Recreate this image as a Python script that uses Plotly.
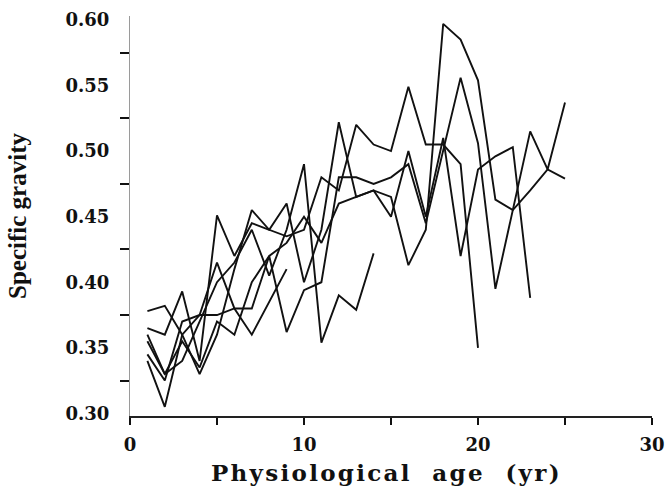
import plotly.graph_objects as go

# Physiological age (years) for each tree record
age_a = list(range(1, 26))
age_b = list(range(1, 26))
age_c = list(range(1, 21))
age_d = list(range(1, 24))
age_e = list(range(1, 10))
age_f = list(range(1, 15))

# Specific gravity of wood by physiological age
sg_a = [0.355, 0.330, 0.355, 0.335, 0.370, 0.360, 0.400, 0.420, 0.430, 0.450,
        0.430, 0.460, 0.465, 0.470, 0.465, 0.413, 0.440, 0.597, 0.585, 0.554,
        0.463, 0.455, 0.470, 0.486, 0.479]
sg_b = [0.345, 0.325, 0.370, 0.375, 0.375, 0.380, 0.380, 0.420, 0.362, 0.394,
        0.400, 0.480, 0.480, 0.475, 0.480, 0.490, 0.445, 0.500, 0.556, 0.506,
        0.395, 0.455, 0.515, 0.486, 0.537]
sg_c = [0.378, 0.382, 0.360, 0.330, 0.360, 0.410, 0.455, 0.440, 0.435, 0.440,
        0.480, 0.470, 0.520, 0.505, 0.500, 0.549, 0.505, 0.505, 0.490, 0.350]
sg_d = [0.365, 0.360, 0.393, 0.340, 0.451, 0.420, 0.445, 0.440, 0.460, 0.400,
        0.440, 0.522, 0.465, 0.470, 0.450, 0.500, 0.450, 0.510, 0.420, 0.486,
        0.496, 0.503, 0.388]
sg_e = [0.340, 0.305, 0.360, 0.375, 0.415, 0.380, 0.360, 0.385, 0.410]
sg_f = [0.360, 0.330, 0.340, 0.370, 0.400, 0.415, 0.440, 0.405, 0.440, 0.490,
        0.354, 0.390, 0.379, 0.422]

y_tick_vals = [0.30, 0.35, 0.40, 0.45, 0.50, 0.55, 0.60]
y_tick_text = ["0.30", "0.35", "0.40", "0.45", "0.50", "0.55", "0.60"]
y_mark_vals = [0.325, 0.375, 0.425, 0.475, 0.525, 0.575]
x_tick_vals = [0, 10, 20, 30]
x_tick_text = ["0", "10", "20", "30"]
x_mark_vals = [5, 15, 25]

x_title = "Physiological  age  (yr)"
y_title = "Specific gravity"


def spaced(text):
    # open up the letter spacing of a title with hair spaces
    return "\u200a".join(ch if ch != " " else "\u00a0" for ch in text)


series = [(age_a, sg_a), (age_b, sg_b), (age_c, sg_c),
          (age_d, sg_d), (age_e, sg_e), (age_f, sg_f)]

fig = go.Figure()
for ages, sg in series:
    fig.add_trace(go.Scatter(
        x=ages, y=sg, mode="lines",
        line=dict(color="#111111", width=1.9),
        showlegend=False, hoverinfo="skip",
    ))

tick_font = dict(family="DejaVu Serif", size=18, color="#111111", weight="bold")

fig.update_layout(
    width=669, height=486,
    margin=dict(l=130, r=17, t=16, b=70),
    paper_bgcolor="white", plot_bgcolor="white",
    xaxis=dict(
        range=[0, 30], automargin=False,
        tickvals=x_tick_vals, ticktext=x_tick_text,
        ticks="outside", ticklen=7, tickwidth=1.5, tickcolor="#111111",
        minor=dict(tickvals=x_mark_vals, ticks="outside", ticklen=7,
                   tickwidth=1.5, tickcolor="#111111"),
        showline=True, linecolor="#222222", linewidth=1.5,
        showgrid=False, zeroline=False,
        tickfont=tick_font, ticklabelstandoff=5,
    ),
    yaxis=dict(
        range=[0.298, 0.603], automargin=False,
        tickvals=y_tick_vals, ticktext=y_tick_text,
        ticks="outside", ticklen=9, tickcolor="rgba(0,0,0,0)",
        minor=dict(tickvals=y_mark_vals, ticks="outside", ticklen=9,
                   tickwidth=1.5, tickcolor="#111111"),
        showline=True, linecolor="#9a9a9a", linewidth=1,
        showgrid=False, zeroline=False,
        tickfont=tick_font, ticklabelstandoff=7,
        title=dict(text=y_title,
                   font=dict(family="Liberation Serif", size=25, color="#111111",
                             weight="bold"),
                   standoff=31),
    ),
    annotations=[dict(
        text=spaced(x_title), xref="paper", yref="paper",
        x=0.49, y=-0.14, xanchor="center", yanchor="middle",
        showarrow=False,
        font=dict(family="DejaVu Serif", size=23, color="#111111", weight="bold"),
    )],
)

fig.write_html("out.html")
